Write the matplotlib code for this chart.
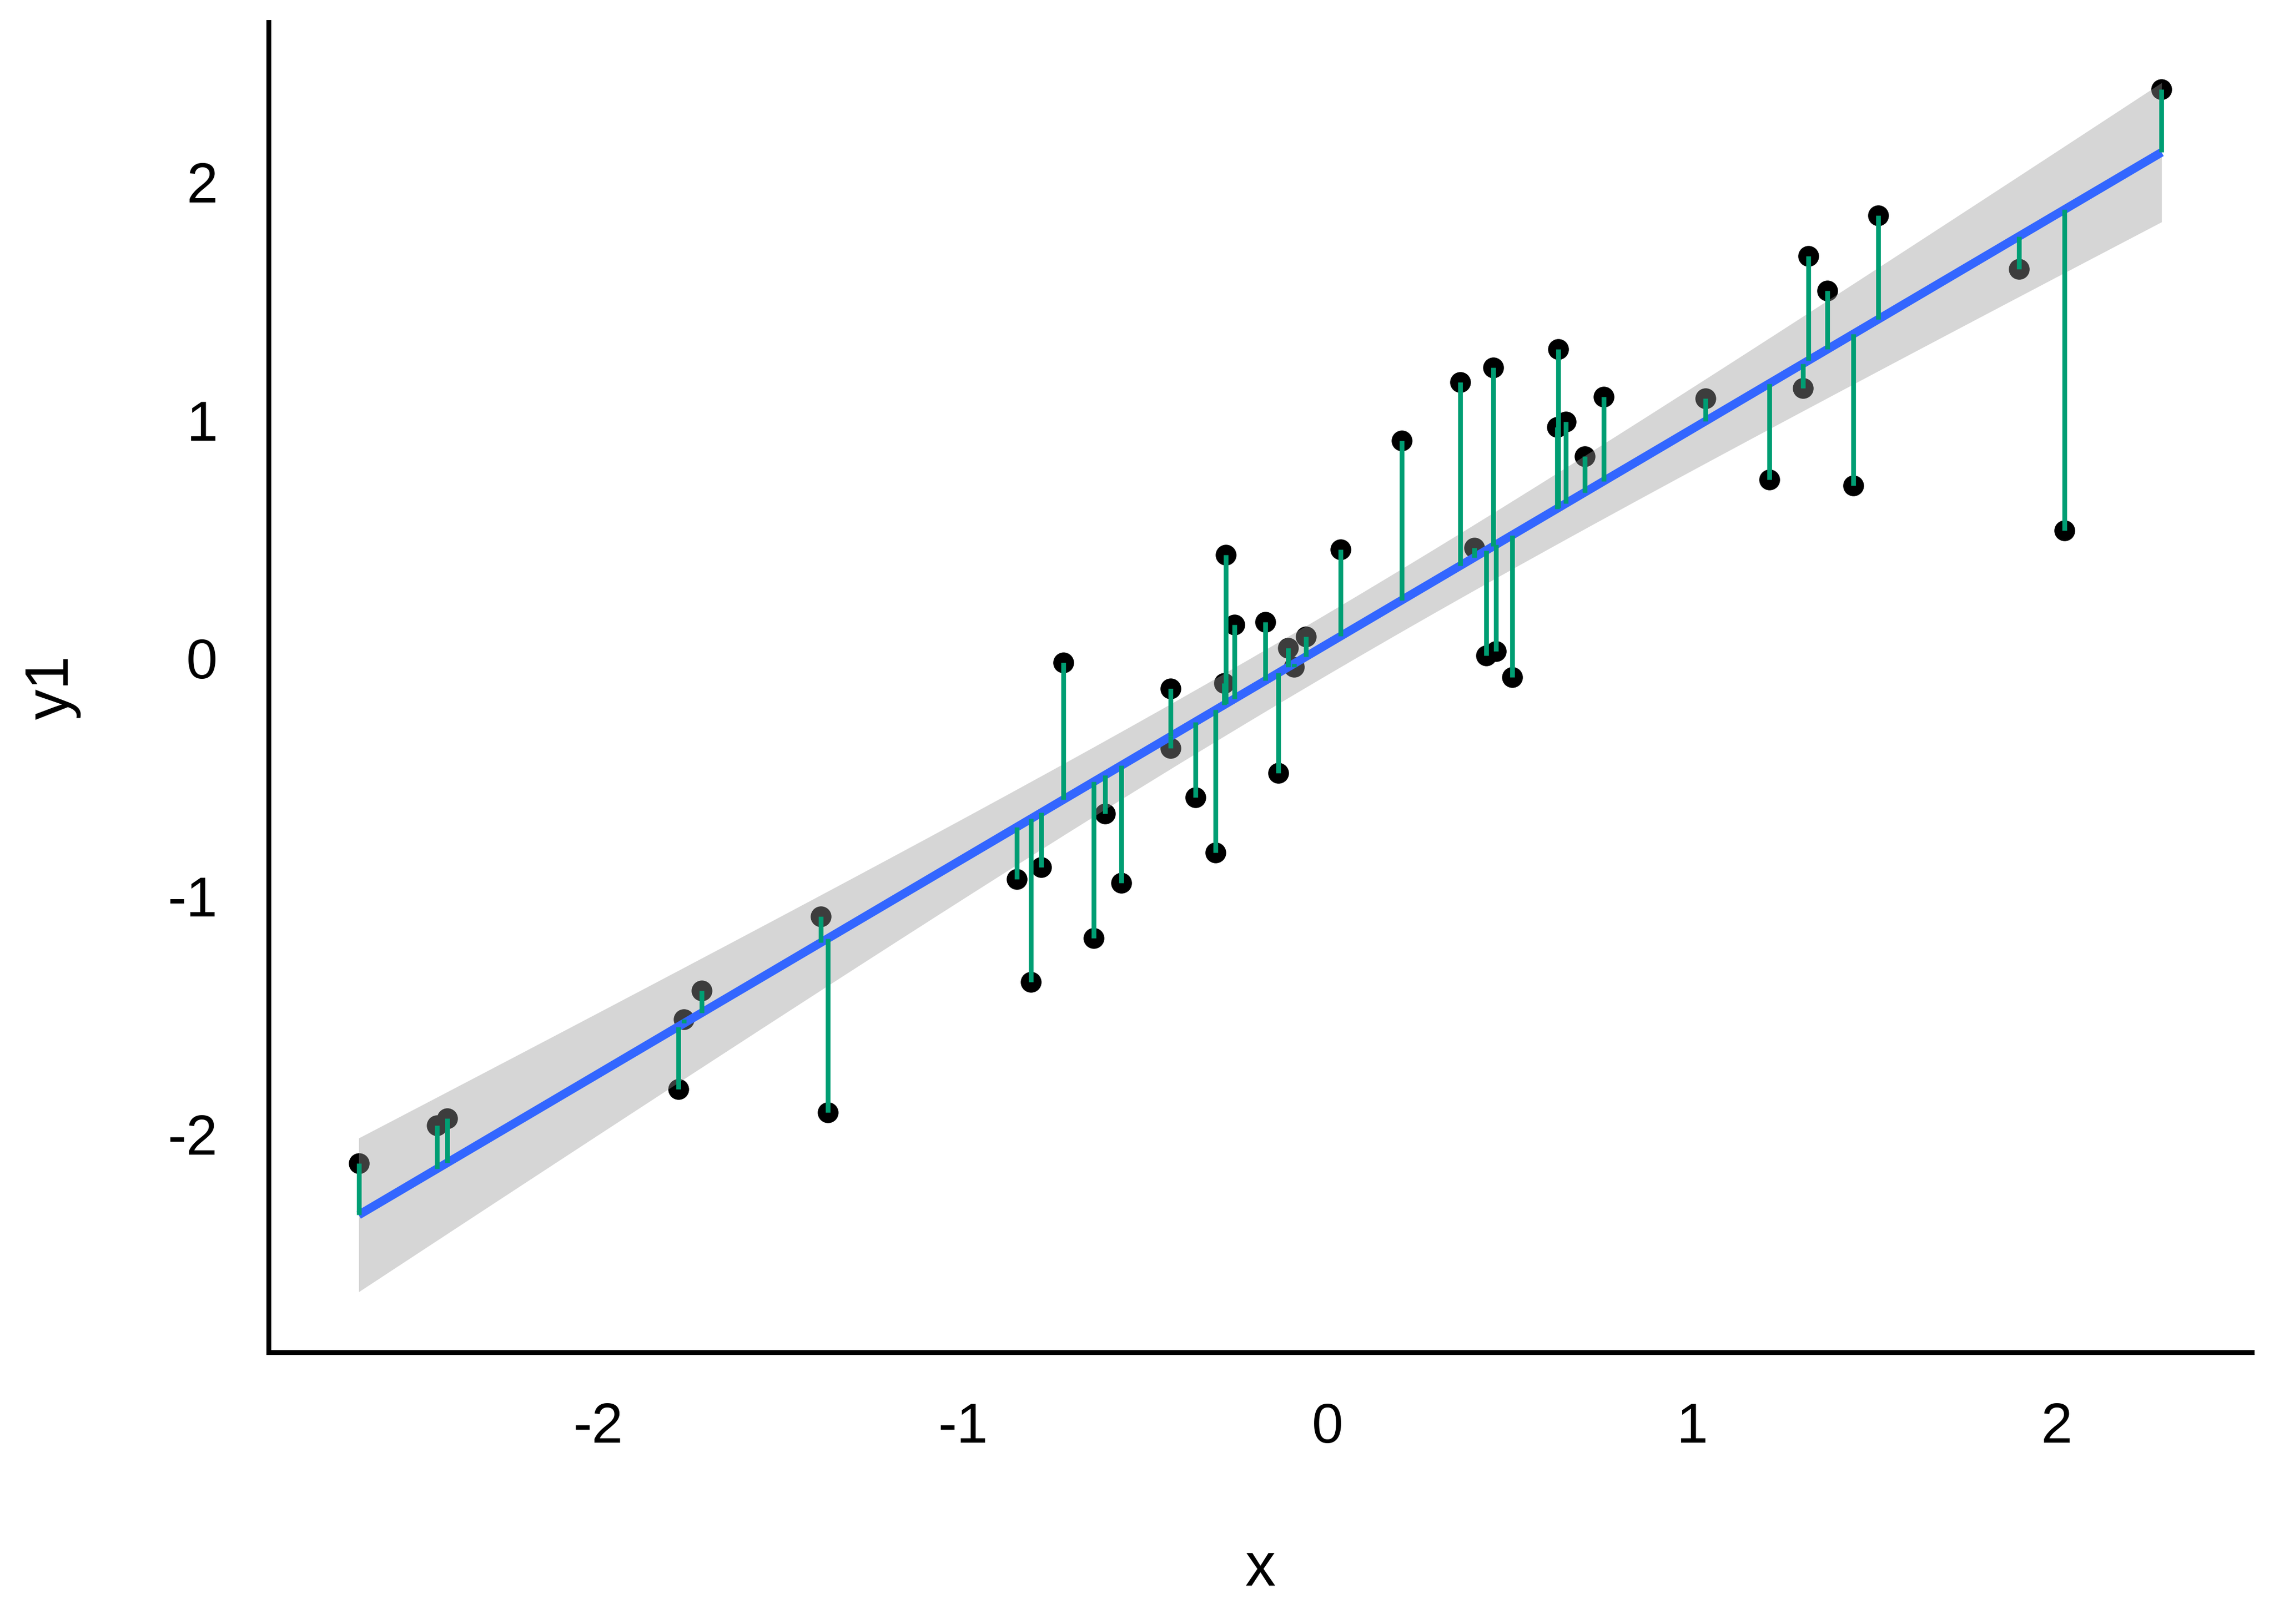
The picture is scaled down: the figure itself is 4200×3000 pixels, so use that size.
import numpy as np
import matplotlib

matplotlib.use("Agg")
import matplotlib.pyplot as plt

# values
x = [-2.657, -2.442, -2.414, -1.781, -1.765, -1.717, -1.390, -1.371, -0.853, -0.813,
     -0.785, -0.725, -0.641, -0.610, -0.566, -0.430, -0.430, -0.363, -0.307, -0.283,
     -0.279, -0.255, -0.171, -0.135, -0.108, -0.092, -0.060, 0.036, 0.203, 0.363,
     0.402, 0.435, 0.454, 0.462, 0.506, 0.629, 0.633, 0.653, 0.705, 0.757,
     1.036, 1.211, 1.303, 1.319, 1.371, 1.442, 1.510, 1.896, 2.020, 2.287]
y1 = [-2.122, -1.963, -1.933, -1.811, -1.518, -1.396, -1.085, -1.909, -0.927, -1.360,
      -0.878, -0.018, -1.177, -0.652, -0.945, -0.128, -0.378, -0.585, -0.817, -0.104,
      0.433, 0.140, 0.152, -0.482, 0.043, -0.037, 0.091, 0.457, 0.915, 1.159,
      0.463, 0.012, 1.220, 0.029, -0.079, 0.970, 1.299, 0.994, 0.848, 1.098,
      1.091, 0.750, 1.134, 1.689, 1.543, 0.726, 1.860, 1.634, 0.537, 2.390]
x_ticks = [-2, -1, 0, 1, 2]
y_ticks = [-2, -1, 0, 1, 2]

xa = np.array(x)
ya = np.array(y1)
n = len(xa)

# linear fit with 95% confidence band (like geom_smooth(method = "lm"))
slope, intercept = np.polyfit(xa, ya, 1)
fitted = intercept + slope * xa
resid = ya - fitted
s = np.sqrt(np.sum(resid ** 2) / (n - 2))
sxx = np.sum((xa - xa.mean()) ** 2)
t_crit = 2.0106  # t(0.975, df = 48)

grid = np.linspace(xa.min(), xa.max(), 80)
pred = intercept + slope * grid
se = s * np.sqrt(1 / n + (grid - xa.mean()) ** 2 / sxx)
lower = pred - t_crit * se
upper = pred + t_crit * se

plt.rcParams["font.family"] = ["Liberation Sans", "DejaVu Sans"]
plt.rcParams["axes.unicode_minus"] = False

fig = plt.figure(figsize=(14, 10), dpi=300)
ax = fig.add_axes([0.1181, 0.1673, 0.9902 - 0.1181, 0.9863 - 0.1673])

ax.scatter(xa, ya, s=85, color="black", linewidths=0, zorder=1)
ax.fill_between(grid, lower, upper, color="#999999", alpha=0.4, linewidth=0, zorder=2)
ax.plot(grid, pred, color="#3366FF", linewidth=3.8, solid_capstyle="butt", zorder=3)
ax.vlines(xa, ya, fitted, color="#009E73", linewidth=2.1, zorder=4)

xr = xa.max() - xa.min()
ax.set_xlim(xa.min() - 0.05 * xr, xa.max() + 0.05 * xr)
ylo = min(ya.min(), lower.min())
yhi = max(ya.max(), upper.max())
yr = yhi - ylo
ax.set_ylim(ylo - 0.05 * yr, yhi + 0.05 * yr)

ax.set_xticks(x_ticks)
ax.set_yticks(y_ticks)
ax.tick_params(axis="x", length=0, pad=22, labelsize=25, colors="black")
ax.tick_params(axis="y", length=0, pad=22.5, labelsize=25, colors="black")

for side in ["top", "right"]:
    ax.spines[side].set_visible(False)
for side in ["left", "bottom"]:
    ax.spines[side].set_linewidth(2.16)
    ax.spines[side].set_color("black")

ax.set_xlabel("x", fontsize=27)
ax.xaxis.set_label_coords(0.5, -0.1754)
ax.xaxis.label.set_va("baseline")
ax.set_ylabel("y1", fontsize=27)
ax.yaxis.set_label_coords(-0.0945, 0.5)

fig.savefig("out.png", dpi=300, facecolor="white")
